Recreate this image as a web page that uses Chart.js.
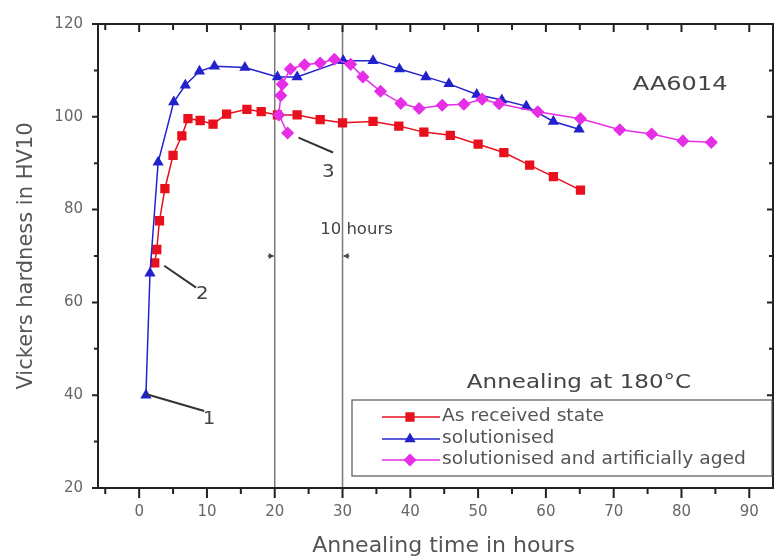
<!DOCTYPE html>
<html>
<head>
<meta charset="utf-8">
<script src="https://cdn.jsdelivr.net/npm/chart.js@4.4.1/dist/chart.umd.min.js"></script>
<style>
  html, body { margin: 0; padding: 0; background: #fff; }
</style>
</head>
<body>
<canvas id="hardness" width="780" height="560"></canvas>
<script>
// values (hours, HV10)
const receivedHours = [2.3, 2.6, 3.0, 3.8, 5.0, 6.3, 7.2, 9.0, 10.9, 12.9, 15.9, 18.0, 20.4, 23.3, 26.7, 30.0, 34.5, 38.3, 42.0, 45.9, 50.0, 53.8, 57.6, 61.1, 65.1];
const receivedHV = [68.5, 71.4, 77.6, 84.5, 91.7, 95.9, 99.6, 99.2, 98.4, 100.6, 101.6, 101.1, 100.4, 100.4, 99.4, 98.7, 99.0, 98.0, 96.7, 96.0, 94.1, 92.3, 89.6, 87.1, 84.2];

const solHours = [1.0, 1.6, 2.8, 5.1, 6.8, 8.9, 11.1, 15.6, 20.4, 23.3, 30.1, 34.5, 38.4, 42.3, 45.7, 49.8, 53.5, 57.1, 61.1, 64.9];
const solHV = [40.0, 66.3, 90.2, 103.2, 106.8, 109.8, 110.9, 110.6, 108.6, 108.6, 112.1, 112.1, 110.3, 108.6, 107.1, 104.8, 103.6, 102.3, 99.0, 97.3];

const agedHours = [21.9, 20.6, 20.9, 21.1, 22.3, 24.4, 26.7, 28.8, 31.2, 33.0, 35.6, 38.6, 41.3, 44.7, 47.9, 50.6, 53.1, 58.8, 65.1, 70.9, 75.6, 80.2, 84.4];
const agedHV = [96.5, 100.4, 104.6, 107.0, 110.3, 111.2, 111.6, 112.4, 111.3, 108.6, 105.5, 102.9, 101.8, 102.5, 102.7, 103.8, 102.8, 101.1, 99.6, 97.2, 96.3, 94.8, 94.5];

const seriesNames = ['As received state', 'solutionised', 'solutionised and artificially aged'];
const xTicks = [0, 10, 20, 30, 40, 50, 60, 70, 80, 90];
const yTicks = [20, 40, 60, 80, 100, 120];
const markLines = [20, 30];

const RED = '#e8101c';
const BLUE = '#2222cc';
const PINK = '#e62ee6';
const FONT = "'DejaVu Sans', sans-serif";

Chart.defaults.font.family = FONT;

function toPoints(xs, ys) {
    return xs.map((x, i) => ({x: x, y: ys[i]}));
}

function wideText(ctx, text, x, y, sx, align) {
    ctx.save();
    ctx.translate(x, y);
    ctx.scale(sx, 1);
    ctx.textAlign = align;
    ctx.textBaseline = 'middle';
    ctx.fillText(text, 0, 0);
    ctx.restore();
}

const styles = [
    {color: RED, pointStyle: 'rect', radius: 5.5},
    {color: BLUE, pointStyle: 'triangle', radius: 5},
    {color: PINK, pointStyle: 'rectRot', radius: 5.5}
];

const figureExtras = {
    id: 'figureExtras',
    beforeDatasetsDraw(chart) {
        const {ctx, chartArea: a, scales: {x}} = chart;
        ctx.save();
        ctx.strokeStyle = '#7a7a7a';
        ctx.lineWidth = 1.5;
        markLines.forEach(v => {
            const px = x.getPixelForValue(v);
            ctx.beginPath();
            ctx.moveTo(px, a.top);
            ctx.lineTo(px, a.bottom);
            ctx.stroke();
        });
        ctx.restore();
    },
    afterDatasetsDraw(chart) {
        const {ctx, chartArea: a, scales: {x, y}} = chart;
        ctx.save();

        // frame + tick marks
        ctx.strokeStyle = '#222';
        ctx.lineWidth = 2;
        ctx.strokeRect(a.left, a.top, a.right - a.left, a.bottom - a.top);
        ctx.beginPath();
        for (let v = -5; v <= x.max; v += 5) {
            const px = x.getPixelForValue(v);
            const major = v % 10 === 0;
            ctx.moveTo(px, a.bottom);
            ctx.lineTo(px, a.bottom + (major ? 10 : 6));
            ctx.moveTo(px, a.top);
            ctx.lineTo(px, a.top + (major ? 8 : 6));
        }
        for (let v = 20; v <= 120; v += 10) {
            const py = y.getPixelForValue(v);
            const major = v % 20 === 0;
            ctx.moveTo(a.left, py);
            ctx.lineTo(a.left - (major ? 6 : 4), py);
            ctx.moveTo(a.right, py);
            ctx.lineTo(a.right - (major ? 6 : 4), py);
        }
        ctx.stroke();

        // numbered pointers
        ctx.strokeStyle = '#333';
        ctx.lineWidth = 2;
        ctx.fillStyle = '#444';
        ctx.font = '18px ' + FONT;
        const pointers = [
            {from: [1.1, 40.2], to: [9.6, 36.6], label: '1', at: [10.3, 34.9]},
            {from: [3.7, 67.9], to: [8.4, 63.2], label: '2', at: [9.3, 61.7]},
            {from: [23.5, 95.5], to: [28.6, 92.3], label: '3', at: [27.9, 88.1]}
        ];
        pointers.forEach(p => {
            ctx.beginPath();
            ctx.moveTo(x.getPixelForValue(p.from[0]), y.getPixelForValue(p.from[1]));
            ctx.lineTo(x.getPixelForValue(p.to[0]), y.getPixelForValue(p.to[1]));
            ctx.stroke();
            wideText(ctx, p.label, x.getPixelForValue(p.at[0]), y.getPixelForValue(p.at[1]), 1.1, 'center');
        });

        // 10 hours span
        ctx.font = '15px ' + FONT;
        wideText(ctx, '10 hours', x.getPixelForValue(26.7), y.getPixelForValue(75.5), 1.1, 'left');
        ctx.lineWidth = 1.2;
        const ay = y.getPixelForValue(70);
        [[20, 1], [30, -1]].forEach(([v, dir]) => {
            const px = x.getPixelForValue(v);
            ctx.beginPath();
            ctx.moveTo(px - dir * 7, ay);
            ctx.lineTo(px - dir * 1, ay);
            ctx.stroke();
            ctx.beginPath();
            ctx.moveTo(px - dir * 1, ay);
            ctx.lineTo(px - dir * 6, ay - 3);
            ctx.lineTo(px - dir * 6, ay + 3);
            ctx.closePath();
            ctx.fill();
        });

        ctx.font = '20px ' + FONT;
        wideText(ctx, 'AA6014', x.getPixelForValue(79.8), y.getPixelForValue(107), 1.2, 'center');

        // legend box
        const box = {left: 352, top: 400, right: a.right - 1, bottom: 476};
        ctx.fillStyle = '#444';
        ctx.font = '20px ' + FONT;
        wideText(ctx, 'Annealing at 180°C', 579, 383, 1.15, 'center');
        ctx.fillStyle = '#fff';
        ctx.fillRect(box.left, box.top, box.right - box.left, box.bottom - box.top);
        ctx.strokeStyle = '#555';
        ctx.lineWidth = 1.2;
        ctx.strokeRect(box.left, box.top, box.right - box.left, box.bottom - box.top);
        ctx.font = '17px ' + FONT;
        const rows = [417, 439, 460];
        seriesNames.forEach((name, i) => {
            const s = styles[i];
            ctx.strokeStyle = s.color;
            ctx.lineWidth = 1.5;
            ctx.beginPath();
            ctx.moveTo(box.left + 30, rows[i]);
            ctx.lineTo(box.left + 88, rows[i]);
            ctx.stroke();
            ctx.fillStyle = s.color;
            Chart.helpers.drawPoint(ctx, {pointStyle: s.pointStyle, radius: s.radius, rotation: 0, borderWidth: 1}, box.left + 58, rows[i]);
            ctx.fillStyle = '#555';
            wideText(ctx, name, box.left + 90, rows[i], 1.1, 'left');
        });

        // x axis title
        ctx.fillStyle = '#555';
        ctx.font = '22px ' + FONT;
        wideText(ctx, 'Annealing time in hours', (a.left + a.right) / 2 + 8, 546, 1.0, 'center');
        ctx.restore();
    }
};

new Chart(document.getElementById('hardness'), {
    type: 'line',
    data: {
        datasets: [{
            label: seriesNames[0],
            data: toPoints(receivedHours, receivedHV),
            borderColor: RED,
            backgroundColor: RED,
            pointStyle: styles[0].pointStyle,
            pointRadius: styles[0].radius,
            borderWidth: 1.5,
            order: 3
        }, {
            label: seriesNames[1],
            data: toPoints(solHours, solHV),
            borderColor: BLUE,
            backgroundColor: BLUE,
            pointStyle: styles[1].pointStyle,
            pointRadius: styles[1].radius,
            borderWidth: 1.5,
            order: 2
        }, {
            label: seriesNames[2],
            data: toPoints(agedHours, agedHV),
            borderColor: PINK,
            backgroundColor: PINK,
            pointStyle: styles[2].pointStyle,
            pointRadius: styles[2].radius,
            borderWidth: 1.5,
            order: 1
        }]
    },
    options: {
        responsive: false,
        animation: false,
        layout: {padding: {top: 18, right: 1, left: 0, bottom: 0}},
        plugins: {
            legend: {display: false},
            tooltip: {enabled: false}
        },
        scales: {
            x: {
                type: 'linear',
                min: -6.07,
                max: 93.5,
                afterFit: s => { s.height = 72; },
                afterBuildTicks: s => { s.ticks = xTicks.map(v => ({value: v})); },
                grid: {display: false, drawTicks: false},
                border: {display: false},
                ticks: {autoSkip: false, maxRotation: 0, padding: 15, color: '#666', font: {size: 15}}
            },
            y: {
                min: 20,
                max: 120,
                afterFit: s => { s.width = 98; },
                afterBuildTicks: s => { s.ticks = yTicks.map(v => ({value: v})); },
                grid: {display: false, drawTicks: false},
                border: {display: false},
                ticks: {padding: 15, color: '#666', font: {size: 15}},
                title: {
                    display: true,
                    text: 'Vickers hardness in HV10',
                    color: '#555',
                    font: {size: 21},
                    padding: {top: 14, bottom: 0}
                }
            }
        }
    },
    plugins: [figureExtras]
});
</script>
</body>
</html>
